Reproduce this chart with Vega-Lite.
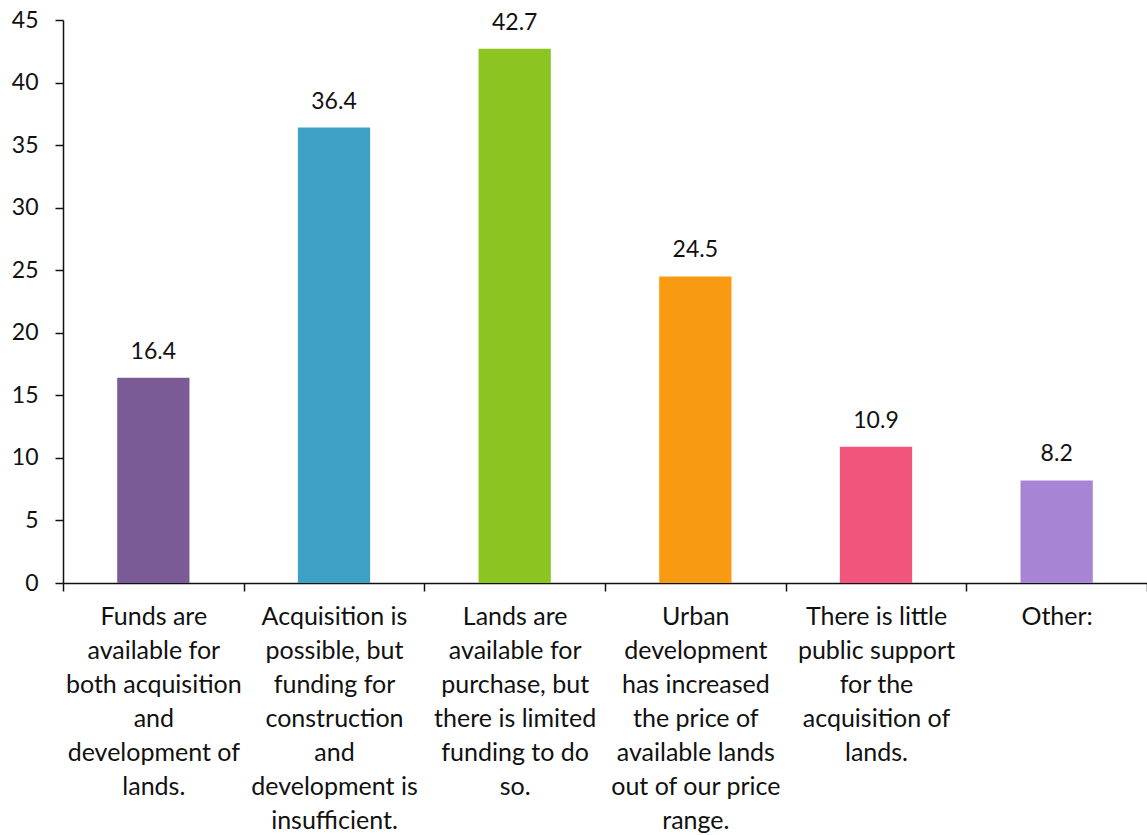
{
  "$schema": "https://vega.github.io/schema/vega-lite/v6.json",
  "width": 1084,
  "height": 563,
  "autosize": "none",
  "padding": {"left": 63, "top": 20, "right": 0, "bottom": 252},
  "background": "white",
  "config": {"view": {"stroke": null}, "font": "Lato"},
  "data": {
    "values": [
      {"category": "Funds are\navailable for\nboth acquisition\nand\ndevelopment of\nlands.", "value": 16.4, "color": "#7B5B96"},
      {"category": "Acquisition is\npossible, but\nfunding for\nconstruction\nand\ndevelopment is\ninsufficient.", "value": 36.4, "color": "#3FA0C6"},
      {"category": "Lands are\navailable for\npurchase, but\nthere is limited\nfunding to do\nso.", "value": 42.7, "color": "#8CC421"},
      {"category": "Urban\ndevelopment\nhas increased\nthe price of\navailable lands\nout of our price\nrange.", "value": 24.5, "color": "#F89B12"},
      {"category": "There is little\npublic support\nfor the\nacquisition of\nlands.", "value": 10.9, "color": "#F2557B"},
      {"category": "Other:", "value": 8.2, "color": "#A785D4"}
    ]
  },
  "encoding": {
    "x": {
      "field": "category",
      "type": "nominal",
      "sort": null,
      "scale": {"paddingInner": 0, "paddingOuter": 0},
      "axis": {
        "title": null,
        "labelAngle": 0,
        "labelExpr": "isString(datum.value) ? split(datum.value, '\\n') : ''",
        "labelLimit": 0,
        "labelFontSize": 25,
        "labelColor": "#111111",
        "labelLineHeight": 34,
        "labelPadding": 13,
        "labelBaseline": "top",
        "tickBand": "extent",
        "tickSize": 8,
        "tickColor": "#111111",
        "domainColor": "#111111",
        "domainWidth": 1.5,
        "tickWidth": 1.5
      }
    },
    "y": {
      "field": "value",
      "type": "quantitative",
      "scale": {"domain": [0, 45], "nice": false},
      "axis": {
        "title": null,
        "values": [0, 5, 10, 15, 20, 25, 30, 35, 40, 45],
        "grid": false,
        "labelFontSize": 23,
        "labelColor": "#111111",
        "labelPadding": 17,
        "tickSize": 8,
        "tickColor": "#111111",
        "domainColor": "#111111",
        "domainWidth": 1.5,
        "tickWidth": 1.5
      }
    }
  },
  "layer": [
    {
      "mark": {"type": "bar", "width": {"band": 0.4}},
      "encoding": {"color": {"field": "color", "type": "nominal", "scale": null}}
    },
    {
      "mark": {"type": "text", "baseline": "alphabetic", "dy": -19, "fontSize": 23, "color": "#111111"},
      "encoding": {"text": {"field": "value", "type": "quantitative", "format": ".1f"}}
    }
  ]
}
